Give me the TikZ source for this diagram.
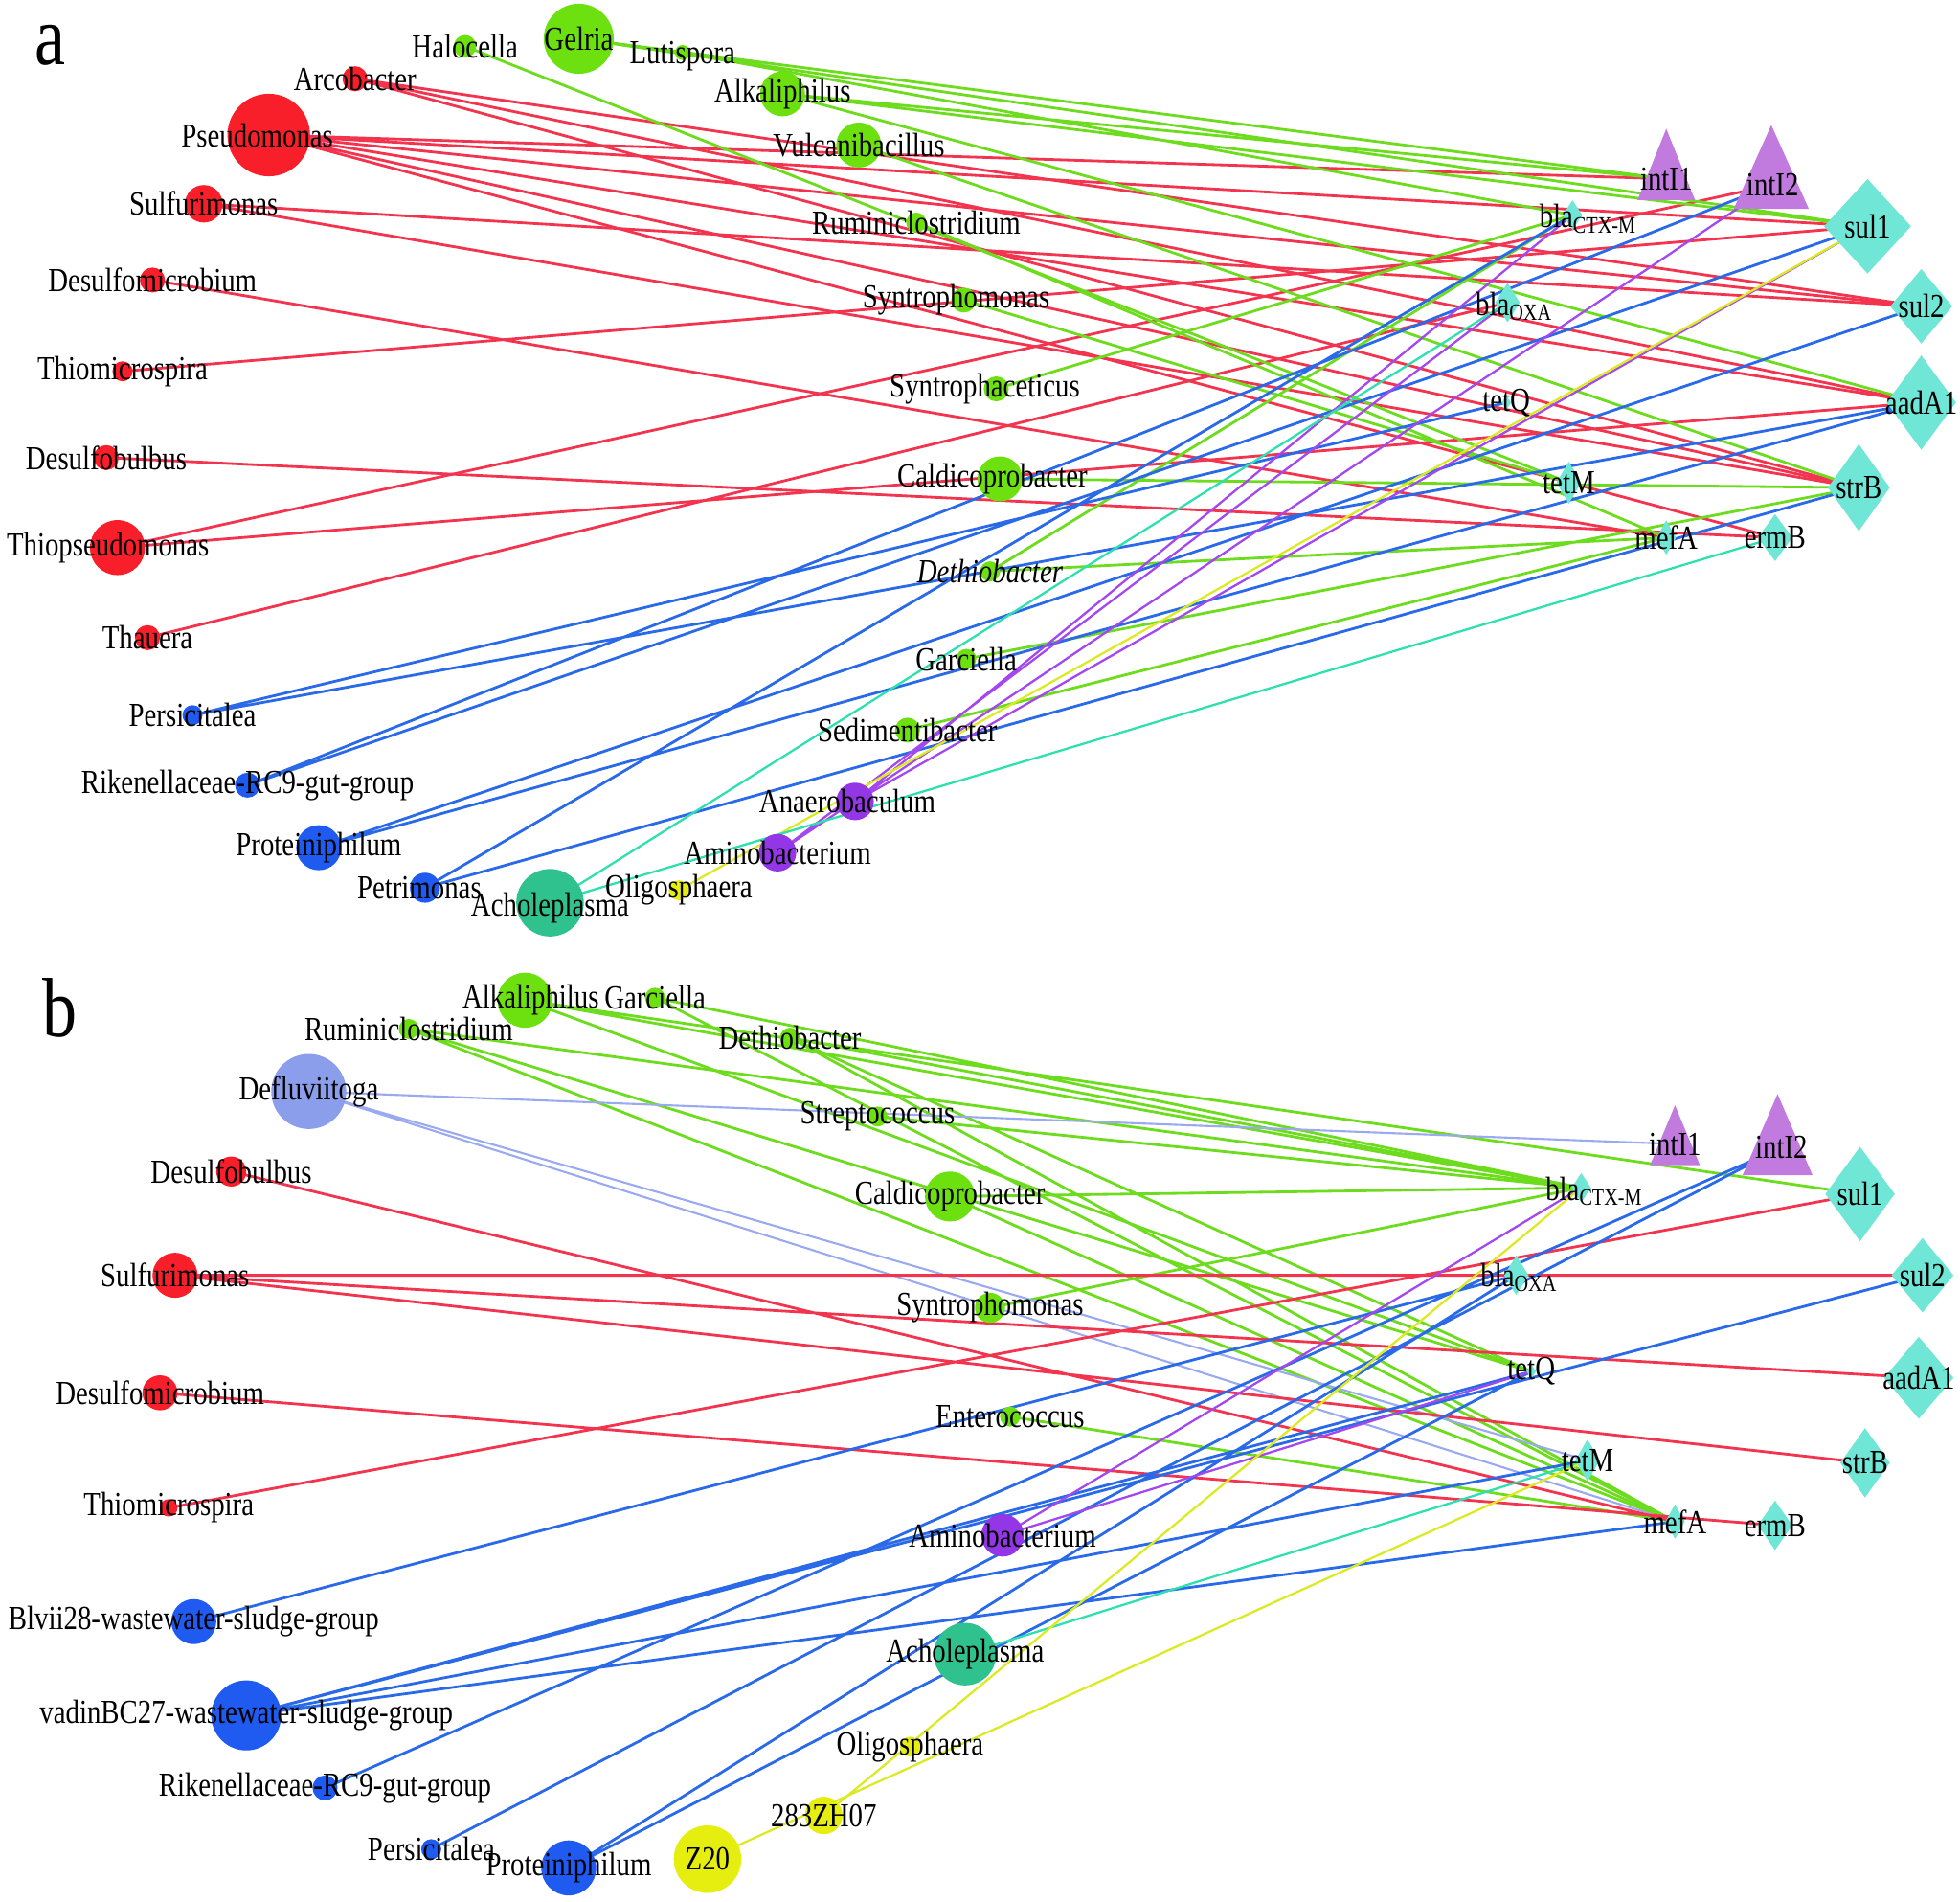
\documentclass[tikz,border=0pt]{standalone}
\usepackage{fontspec}
\setmainfont{Liberation Serif}[FakeStretch=0.82]
\usetikzlibrary{shapes.geometric,backgrounds}

\definecolor{tred}{HTML}{F81E2A}
\definecolor{tgrn}{HTML}{6CE10F}
\definecolor{tblu}{HTML}{1F5BF0}
\definecolor{tpur}{HTML}{9236E6}
\definecolor{ttea}{HTML}{2FC28F}
\definecolor{tyel}{HTML}{E6EE10}
\definecolor{tlbl}{HTML}{8B9EEC}
\definecolor{argc}{HTML}{6FE6D6}
\definecolor{intc}{HTML}{C17BDF}
\definecolor{ered}{HTML}{F2344F}
\definecolor{egrn}{HTML}{6EDC1E}
\definecolor{eblu}{HTML}{2A6AE8}
\definecolor{epur}{HTML}{A447EE}
\definecolor{etea}{HTML}{2EE0B0}
\definecolor{eyel}{HTML}{DCEA24}
\definecolor{elbl}{HTML}{9BAAF0}

\begin{document}
\begin{tikzpicture}[
    x=0.13055mm,y=-0.13055mm,
    font=\fontsize{10}{11}\selectfont,
    taxon/.style 2 args={circle,fill=#1,inner sep=0pt,minimum size=#2*0.2611mm},
    argdia/.style 2 args={diamond,fill=argc,inner sep=0pt,minimum width=#1*0.13055mm,minimum height=#2*0.13055mm},
    argtri/.style={fill=intc},
    lbl/.style={inner sep=0pt},
    panel/.style={font=\fontsize{25}{25}\selectfont},
    lkred/.style={draw=ered,line width=.8pt},
    lkgrn/.style={draw=egrn,line width=.8pt},
    lkblu/.style={draw=eblu,line width=.8pt},
    lkpur/.style={draw=epur,line width=.65pt},
    lktea/.style={draw=etea,line width=.65pt},
    lkyel/.style={draw=eyel,line width=.65pt},
    lklbl/.style={draw=elbl,line width=.6pt}
  ]
    \path[use as bounding box] (0,0) rectangle (1568,1521);

    % panel a
    \node[panel] (pa) at (40,36) {a};
    \node[taxon={tred}{10},label=center:Arcobacter] (aArco) at (284,63) {};
    \node[taxon={tred}{33},label={[xshift=-1.2mm]center:Pseudomonas}] (aPseu) at (215,108) {};
    \node[taxon={tred}{15},label=center:Sulfurimonas] (aSulf) at (163,163) {};
    \node[taxon={tred}{10},label=center:Desulfomicrobium] (aDmic) at (122,224) {};
    \node[taxon={tred}{8},label=center:Thiomicrospira] (aTmic) at (98,297) {};
    \node[taxon={tred}{10},label=center:Desulfobulbus] (aDbul) at (85,366) {};
    \node[taxon={tred}{22},label={[xshift=-1mm]center:Thiopseudomonas}] (aTpse) at (94,438) {};
    \node[taxon={tred}{10},label=center:Thauera] (aThau) at (118,510) {};
    \node[taxon={tblu}{8},label=center:Persicitalea] (aPers) at (154,572) {};
    \node[taxon={tblu}{10},label=center:Rikenellaceae-RC9-gut-group] (aRike) at (198,628) {};
    \node[taxon={tblu}{18},label=center:Proteiniphilum] (aProt) at (255,678) {};
    \node[taxon={tblu}{12},label={[xshift=-.6mm]center:Petrimonas}] (aPetr) at (340,710) {};
    \node[taxon={ttea}{27},label={[yshift=-.5mm]center:Acholeplasma}] (aAcho) at (440,722) {};
    \node[taxon={tyel}{8},label=center:Oligosphaera] (aOlig) at (543,712) {};
    \node[taxon={tpur}{15},label=center:Aminobacterium] (aAmin) at (622,682) {};
    \node[taxon={tpur}{15},label={[xshift=-.8mm]center:Anaerobaculum}] (aAnae) at (684,641) {};
    \node[taxon={tgrn}{9},label=center:Halocella] (aHalo) at (372,37) {};
    \node[taxon={tgrn}{28},label=center:Gelria] (aGelr) at (463,31) {};
    \node[taxon={tgrn}{6},label={[yshift=-.4mm]center:Lutispora}] (aLuti) at (546,42) {};
    \node[taxon={tgrn}{18},label=center:Alkaliphilus] (aAlka) at (626,75) {};
    \node[taxon={tgrn}{18},label=center:Vulcanibacillus] (aVulc) at (687,116) {};
    \node[taxon={tgrn}{8},label=center:Ruminiclostridium] (aRumi) at (733,178) {};
    \node[taxon={tgrn}{10},label={[xshift=-.8mm]center:Syntrophomonas}] (aSyma) at (771,240) {};
    \node[taxon={tgrn}{10},label={[xshift=-1.2mm]center:Syntrophaceticus}] (aSyce) at (797,311) {};
    \node[taxon={tgrn}{18},label={[xshift=-.8mm]center:Caldicoprobacter}] (aCald) at (800,383) {};
    \node[taxon={tgrn}{8},label=center:\itshape Dethiobacter] (aDeth) at (792,457) {};
    \node[taxon={tgrn}{8},label=center:Garciella] (aGarc) at (773,527) {};
    \node[taxon={tgrn}{10},label=center:Sedimentibacter] (aSedi) at (726,584) {};

    \fill[argtri] (1333,103) -- (1356,160) -- (1310,160) -- cycle;
    \node[lbl] (aI1) at (1333,143) {intI1};
    \fill[argtri] (1417,100) -- (1447,167) -- (1387,167) -- cycle;
    \node[lbl] (aI2) at (1418,148) {intI2};
    \node[argdia={16}{24}] (aCTX) at (1258,172) {};
    \node[lbl,anchor=west] (aCTXt) at (1231,175) {bla\textsubscript{CTX-M}};
    \node[argdia={70}{76},label=center:sul1] (aSu1) at (1494,181) {};
    \node[argdia={20}{32}] (aOXA) at (1206,242) {};
    \node[lbl,anchor=west] (aOXAt) at (1180,245) {bla\textsubscript{OXA}};
    \node[argdia={50}{60},label=center:sul2] (aSu2) at (1537,245) {};
    \node[argdia={8}{12},label=center:tetQ] (aTeQ) at (1205,322) {};
    \node[argdia={56}{76},label=center:aadA1] (aAad) at (1537,322) {};
    \node[argdia={20}{34},label=center:tetM] (aTeM) at (1255,386) {};
    \node[argdia={50}{70},label=center:strB] (aStr) at (1487,390) {};
    \node[argdia={16}{28},label=center:mefA] (aMef) at (1333,430) {};
    \node[argdia={28}{38},label=center:ermB] (aErm) at (1420,430) {};

    \begin{pgfonlayer}{background}
    \draw[lkred] (aArco.center) -- (aSu2.center) (aArco.center) -- (aAad.center) (aArco.center) -- (aStr.center);
    \draw[lkred] (aPseu.center) -- (aI1.center) (aPseu.center) -- (aSu1.center) (aPseu.center) -- (aSu2.center)
      (aPseu.center) -- (aAad.center) (aPseu.center) -- (aStr.center) (aPseu.center) -- (aErm.center);
    \draw[lkred] (aSulf.center) -- (aSu2.center) (aSulf.center) -- (aStr.center);
    \draw[lkred] (aDmic.center) -- (aMef.center) (aTmic.center) -- (aSu1.center) (aDbul.center) -- (aErm.center);
    \draw[lkred] (aTpse.center) -- (aI2.center) (aTpse.center) -- (aAad.center) (aThau.center) -- (aOXA.center);
    \draw[lkgrn] (aHalo.center) -- (aTeM.center) (aGelr.center) -- (aI1.center) (aGelr.center) -- (aSu1.center);
    \draw[lkgrn] (aLuti.center) -- (aCTX.center) (aAlka.center) -- (aI1.center) (aAlka.center) -- (aSu1.center)
      (aAlka.center) -- (aAad.center) (aVulc.center) -- (aStr.center);
    \draw[lkgrn] (aRumi.center) -- (aMef.center) (aSyma.center) -- (aTeM.center) (aSyce.center) -- (aCTX.center)
      (aCald.center) -- (aStr.center) (aDeth.center) -- (aMef.center) (aDeth.center) -- (aCTX.center)
      (aGarc.center) -- (aStr.center) (aSedi.center) -- (aMef.center);
    \draw[lkblu] (aPers.center) -- (aTeQ.center) (aPers.center) -- (aAad.center) (aRike.center) -- (aI2.center)
      (aRike.center) -- (aSu1.center) (aProt.center) -- (aAad.center) (aProt.center) -- (aSu2.center)
      (aPetr.center) -- (aCTX.center) (aPetr.center) -- (aStr.center);
    \draw[lkpur] (aAmin.center) -- (aI2.center) (aAmin.center) -- (aOXA.center) (aAnae.center) -- (aCTX.center)
      (aAnae.center) -- (aSu1.center);
    \draw[lkyel] (aOlig.center) -- (aSu1.center);
    \draw[lktea] (aAcho.center) -- (aOXA.center) (aAcho.center) -- (aErm.center);
    \end{pgfonlayer}

    % panel b
    \node[panel] (pb) at (48,806) {b};
    \node[taxon={tgrn}{22},label={[xshift=.6mm]center:Alkaliphilus}] (bAlka) at (420,800) {};
    \node[taxon={tgrn}{8},label=center:Garciella] (bGarc) at (524,798) {};
    \node[taxon={tgrn}{8},label=center:Ruminiclostridium] (bRumi) at (327,823) {};
    \node[taxon={tgrn}{8},label=center:Dethiobacter] (bDeth) at (632,830) {};
    \node[taxon={tlbl}{30},label=center:Defluviitoga] (bDefl) at (247,873) {};
    \node[taxon={tgrn}{8},label=center:Streptococcus] (bStre) at (702,893) {};
    \node[taxon={tred}{12},label=center:Desulfobulbus] (bDbul) at (185,937) {};
    \node[taxon={tgrn}{20},label=center:Caldicoprobacter] (bCald) at (760,957) {};
    \node[taxon={tred}{18},label=center:Sulfurimonas] (bSulf) at (140,1020) {};
    \node[taxon={tgrn}{12},label=center:Syntrophomonas] (bSyma) at (792,1046) {};
    \node[taxon={tred}{14},label=center:Desulfomicrobium] (bDmic) at (128,1114) {};
    \node[taxon={tgrn}{8},label=center:Enterococcus] (bEnte) at (808,1133) {};
    \node[taxon={tred}{7},label=center:Thiomicrospira] (bTmic) at (135,1206) {};
    \node[taxon={tpur}{17},label=center:Aminobacterium] (bAmin) at (802,1228) {};
    \node[taxon={tblu}{18},label=center:Blvii28-wastewater-sludge-group] (bBlvi) at (155,1297) {};
    \node[taxon={ttea}{25},label=center:Acholeplasma] (bAcho) at (772,1323) {};
    \node[taxon={tblu}{28},label=center:vadinBC27-wastewater-sludge-group] (bVadi) at (197,1372) {};
    \node[taxon={tyel}{8},label=center:Oligosphaera] (bOlig) at (728,1397) {};
    \node[taxon={tblu}{10},label=center:Rikenellaceae-RC9-gut-group] (bRike) at (260,1430) {};
    \node[taxon={tyel}{15},label=center:283ZH07] (bZH07) at (659,1452) {};
    \node[taxon={tblu}{8},label=center:Persicitalea] (bPers) at (345,1479) {};
    \node[taxon={tblu}{22},label=center:Proteiniphilum] (bProt) at (455,1494) {};
    \node[taxon={tyel}{27},label=center:Z20] (bZ20) at (566,1487) {};

    \fill[argtri] (1340,884) -- (1360,932) -- (1320,932) -- cycle;
    \node[lbl] (bI1) at (1340,915) {intI1};
    \fill[argtri] (1422,875) -- (1450,940) -- (1394,940) -- cycle;
    \node[lbl] (bI2) at (1425,918) {intI2};
    \node[argdia={16}{24}] (bCTX) at (1265,950) {};
    \node[lbl,anchor=west] (bCTXt) at (1236,953) {bla\textsubscript{CTX-M}};
    \node[argdia={56}{76},label=center:sul1] (bSu1) at (1488,955) {};
    \node[argdia={20}{32}] (bOXA) at (1213,1020) {};
    \node[lbl,anchor=west] (bOXAt) at (1184,1022) {bla\textsubscript{OXA}};
    \node[argdia={50}{60},label=center:sul2] (bSu2) at (1538,1020) {};
    \node[argdia={8}{12},label=center:tetQ] (bTeQ) at (1225,1097) {};
    \node[argdia={56}{66},label=center:aadA1] (bAad) at (1535,1102) {};
    \node[argdia={20}{34},label=center:tetM] (bTeM) at (1270,1168) {};
    \node[argdia={40}{56},label=center:strB] (bStr) at (1492,1170) {};
    \node[argdia={16}{28},label=center:mefA] (bMef) at (1340,1217) {};
    \node[argdia={28}{40},label=center:ermB] (bErm) at (1420,1220) {};

    \begin{pgfonlayer}{background}
    \draw[lkgrn] (bRumi.center) -- (bCTX.center) (bRumi.center) -- (bTeQ.center) (bRumi.center) -- (bMef.center);
    \draw[lkgrn] (bAlka.center) -- (bSu1.center) (bAlka.center) -- (bCTX.center) (bAlka.center) -- (bTeQ.center)
      (bGarc.center) -- (bCTX.center) (bGarc.center) -- (bMef.center);
    \draw[lkgrn] (bDeth.center) -- (bCTX.center) (bDeth.center) -- (bTeQ.center) (bDeth.center) -- (bMef.center)
      (bStre.center) -- (bCTX.center) (bCald.center) -- (bCTX.center) (bCald.center) -- (bMef.center)
      (bSyma.center) -- (bCTX.center) (bEnte.center) -- (bMef.center);
    \draw[lklbl] (bDefl.center) -- (bI1.center) (bDefl.center) -- (bTeM.center) (bDefl.center) -- (bMef.center);
    \draw[lkred] (bDbul.center) -- (bMef.center) (bSulf.center) -- (bSu2.center) (bSulf.center) -- (bAad.center)
      (bSulf.center) -- (bStr.center) (bDmic.center) -- (bErm.center) (bTmic.center) -- (bSu1.center);
    \draw[lkblu] (bBlvi.center) -- (bOXA.center) (bVadi.center) -- (bTeQ.center) (bVadi.center) -- (bTeM.center)
      (bVadi.center) -- (bMef.center) (bVadi.center) -- (bSu2.center) (bRike.center) -- (bI2.center)
      (bPers.center) -- (bI2.center) (bProt.center) -- (bOXA.center) (bProt.center) -- (bTeQ.center);
    \draw[lkpur] (bAmin.center) -- (bCTX.center) (bAmin.center) -- (bTeQ.center);
    \draw[lktea] (bAcho.center) -- (bTeM.center);
    \draw[lkyel] (bZH07.center) -- (bCTX.center) (bZ20.center) -- (bTeM.center);
    \end{pgfonlayer}
  \end{tikzpicture}
\end{document}
